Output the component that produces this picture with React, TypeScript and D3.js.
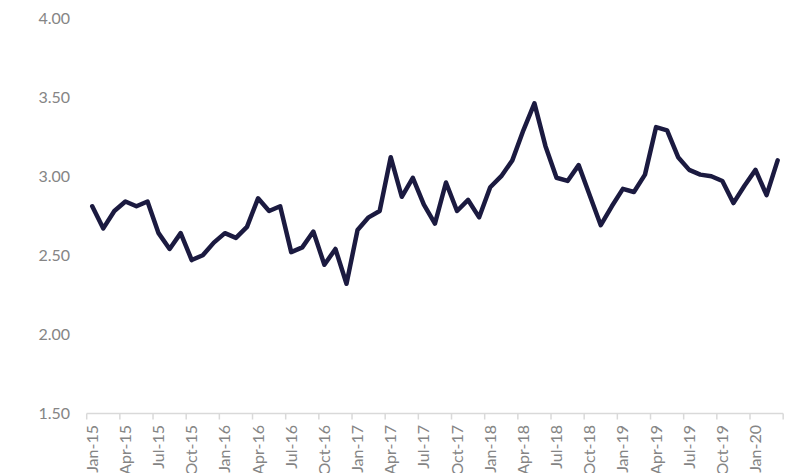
import React from "react";
import * as d3 from "d3";

const months = ["Jan","Feb","Mar","Apr","May","Jun","Jul","Aug","Sep","Oct","Nov","Dec"];
const years = ["15","16","17","18","19","20"];
const categories: string[] = [];
years.forEach((y) => months.forEach((m) => categories.push(`${m}-${y}`)));
const cats = categories.slice(0, 63);

const values = [
  2.81, 2.67, 2.78, 2.84, 2.81, 2.84, 2.64, 2.54, 2.64, 2.47, 2.50, 2.58,
  2.64, 2.61, 2.68, 2.86, 2.78, 2.81, 2.52, 2.55, 2.65, 2.44, 2.54, 2.32,
  2.66, 2.74, 2.78, 3.12, 2.87, 2.99, 2.82, 2.70, 2.96, 2.78, 2.85, 2.74,
  2.93, 3.00, 3.10, 3.29, 3.46, 3.19, 2.99, 2.97, 3.07, 2.88, 2.69, 2.81,
  2.92, 2.90, 3.01, 3.31, 3.29, 3.12, 3.04, 3.01, 3.00, 2.97, 2.83, 2.94,
  3.04, 2.88, 3.10,
];

const yTicks = [1.5, 2.0, 2.5, 3.0, 3.5, 4.0];

const W = 785;
const H = 473;
const FONT = "Lato, 'Open Sans', sans-serif";

export default function App() {
  const x = d3.scaleBand<string>().domain(cats).range([86.7, 86.7 + 63 * 11.055]).padding(0);
  const y = d3.scaleLinear().domain([1.5, 4]).range([413.5, 18]);
  const bw = x.bandwidth();
  const line = d3
    .line<number>()
    .x((_, i) => (x(cats[i]) as number) + bw / 2)
    .y((d) => y(d));
  const tickCats = cats.filter((_, i) => i % 3 === 0);
  const axisEnd = x.range()[1];

  return (
    <svg width={W} height={H} style={{ position: "absolute", left: 0, top: 0 }}>
      <rect width={W} height={H} fill="#fff" />
      {yTicks.map((t) => (
        <text key={t} x={70} y={y(t)} dy="0.35em" textAnchor="end" fontFamily={FONT} fontSize={16} fill="#858585">
          {t.toFixed(2)}
        </text>
      ))}
      <line x1={x.range()[0]} x2={axisEnd} y1={y(1.5)} y2={y(1.5)} stroke="#d9d9d9" strokeWidth={1.5} />
      {tickCats.map((c) => (
        <line key={"t" + c} x1={x(c) as number} x2={x(c) as number} y1={y(1.5)} y2={y(1.5) + 6} stroke="#d9d9d9" strokeWidth={1.5} />
      ))}
      <line x1={axisEnd} x2={axisEnd} y1={y(1.5)} y2={y(1.5) + 6} stroke="#d9d9d9" strokeWidth={1.5} />
      {tickCats.map((c) => {
        const cx = (x(c) as number) + bw / 2;
        return (
          <text
            key={"l" + c}
            transform={`translate(${cx},425) rotate(-90)`}
            dy="0.35em"
            textAnchor="end"
            fontFamily={FONT}
            fontSize={16}
            fill="#858585"
          >
            {c}
          </text>
        );
      })}
      <path d={line(values) || ""} fill="none" stroke="#1b1a40" strokeWidth={4.5} strokeLinejoin="round" strokeLinecap="round" />
    </svg>
  );
}
